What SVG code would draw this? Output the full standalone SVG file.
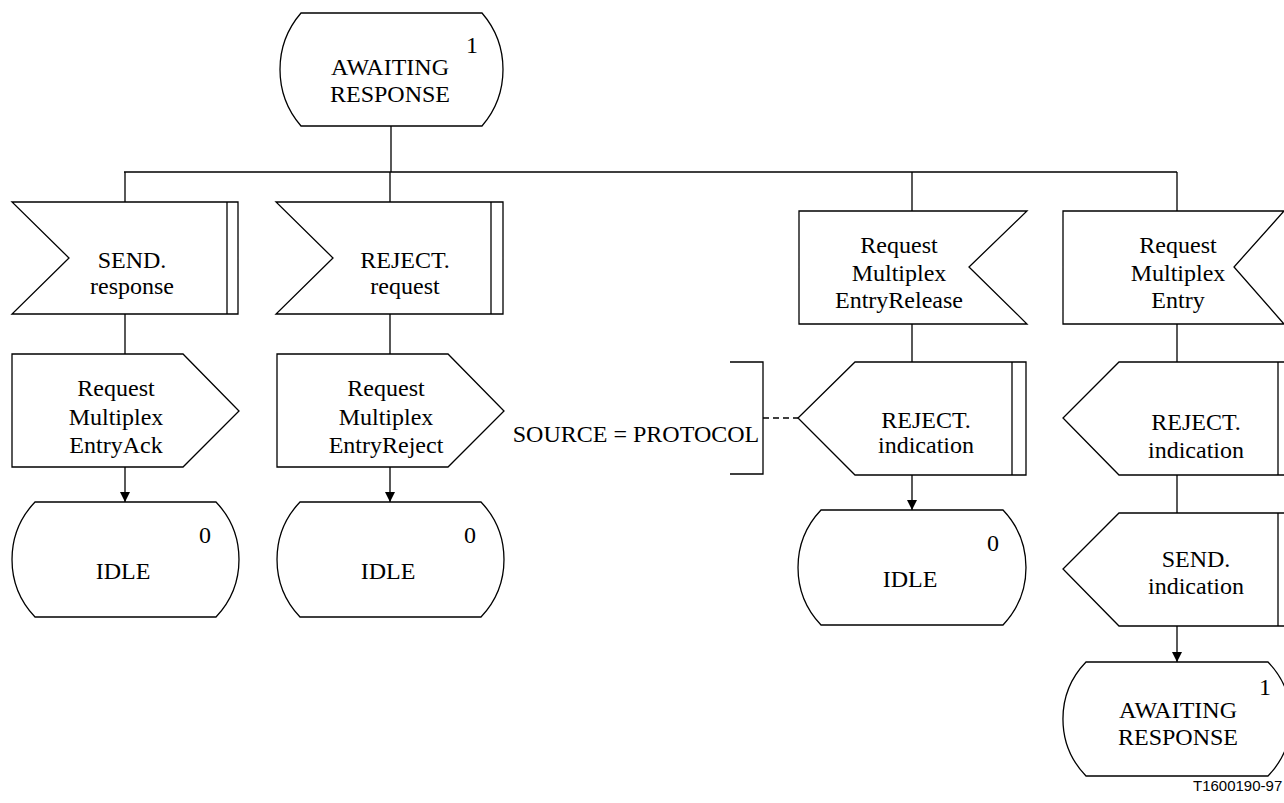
<svg xmlns="http://www.w3.org/2000/svg" width="1284" height="803" viewBox="0 0 1284 803">
<defs>
<style>
.s{fill:#fff;stroke:#000;stroke-width:1.3}
.l{fill:none;stroke:#000;stroke-width:1.3}
.t{font-family:'Liberation Serif',serif;font-size:24px;fill:#000;text-anchor:middle}
</style>
<marker id="ah" viewBox="0 0 10 10" refX="10" refY="5" markerWidth="10" markerHeight="10" markerUnits="userSpaceOnUse" orient="auto">
<path d="M0,0 L10,5 L0,10 z" fill="#000"/>
</marker>
</defs>
<rect width="1284" height="803" fill="#fff"/>

<g id="connectors">
<path class="l" d="M391,126 V172 M124,172 H1177 M125,172 V202 M390,172 V202 M912,172 V211 M1177,172 V211"/>
<path class="l" d="M125,314 V354 M390,314 V354 M912,324 V362 M1177,324 V362 M1177,475 V513"/>
<path class="l" d="M125,467 V502" marker-end="url(#ah)"/>
<path class="l" d="M390,467 V502" marker-end="url(#ah)"/>
<path class="l" d="M912,475 V510" marker-end="url(#ah)"/>
<path class="l" d="M1177,626 V662" marker-end="url(#ah)"/>
<path class="l" d="M763,418 H798" stroke-dasharray="6,4"/>
</g>

<g id="state-awaiting-top">
<path class="s" d="M301,13 H482 A86.5,86.5 0 0 1 482,126 H301 A86.5,86.5 0 0 1 301,13 Z"/>
<text class="t" x="472" y="53">1</text>
<text class="t" x="390" y="75">AWAITING</text>
<text class="t" x="390" y="102">RESPONSE</text>
</g>

<g id="input-send-response">
<path class="s" d="M12,202 H238 V314 H12 L69,258 Z"/>
<path class="l" d="M227,202 V314"/>
<text class="t" x="132" y="268">SEND.</text>
<text class="t" x="132" y="294">response</text>
</g>

<g id="input-reject-request">
<path class="s" d="M276,202 H503 V314 H276 L333,258 Z"/>
<path class="l" d="M491,202 V314"/>
<text class="t" x="405" y="268">REJECT.</text>
<text class="t" x="405" y="294">request</text>
</g>

<g id="input-rme-release">
<path class="s" d="M799,211 H1027 L969,267 L1027,324 H799 Z"/>
<text class="t" x="899" y="253">Request</text>
<text class="t" x="899" y="281">Multiplex</text>
<text class="t" x="899" y="308">EntryRelease</text>
</g>

<g id="input-rme">
<path class="s" d="M1063,211 H1284 L1234,267 L1284,324 H1063 Z"/>
<text class="t" x="1178" y="253">Request</text>
<text class="t" x="1178" y="281">Multiplex</text>
<text class="t" x="1178" y="308">Entry</text>
</g>

<g id="output-rme-ack">
<path class="s" d="M12,354 H183 L239,411 L183,467 H12 Z"/>
<text class="t" x="116" y="396">Request</text>
<text class="t" x="116" y="425">Multiplex</text>
<text class="t" x="116" y="453">EntryAck</text>
</g>

<g id="output-rme-reject">
<path class="s" d="M277,354 H448 L504,411 L448,467 H277 Z"/>
<text class="t" x="386" y="396">Request</text>
<text class="t" x="386" y="425">Multiplex</text>
<text class="t" x="386" y="453">EntryReject</text>
</g>

<g id="state-idle-1">
<path class="s" d="M35,502 H216 A83.4,83.4 0 0 1 216,617 H35 A83.4,83.4 0 0 1 35,502 Z"/>
<text class="t" x="205" y="543">0</text>
<text class="t" x="123" y="579">IDLE</text>
</g>

<g id="state-idle-2">
<path class="s" d="M300,502 H481 A83.4,83.4 0 0 1 481,617 H300 A83.4,83.4 0 0 1 300,502 Z"/>
<text class="t" x="470" y="543">0</text>
<text class="t" x="388" y="579">IDLE</text>
</g>

<g id="comment-source">
<path class="l" d="M730,362 H763 V474 H730"/>
<text class="t" x="636" y="442">SOURCE = PROTOCOL</text>
</g>

<g id="output-reject-indication-mid">
<path class="s" d="M855,362 H1026 V475 H855 L798,418 Z"/>
<path class="l" d="M1012,362 V475"/>
<text class="t" x="926" y="428">REJECT.</text>
<text class="t" x="926" y="453">indication</text>
</g>

<g id="state-idle-3">
<path class="s" d="M821,510 H1003 A83.4,83.4 0 0 1 1003,625 H821 A83.4,83.4 0 0 1 821,510 Z"/>
<text class="t" x="993" y="551">0</text>
<text class="t" x="910" y="587">IDLE</text>
</g>

<g id="output-reject-indication-right">
<path class="s" d="M1119,362 H1290 V475 H1119 L1063,418 Z"/>
<path class="l" d="M1278,362 V475"/>
<text class="t" x="1196" y="430">REJECT.</text>
<text class="t" x="1196" y="458">indication</text>
</g>

<g id="output-send-indication">
<path class="s" d="M1119,513 H1290 V626 H1119 L1063,569 Z"/>
<path class="l" d="M1278,513 V626"/>
<text class="t" x="1196" y="567">SEND.</text>
<text class="t" x="1196" y="594">indication</text>
</g>

<g id="state-awaiting-bottom">
<path class="s" d="M1086,662 H1268 A82,82 0 0 1 1268,776 H1086 A82,82 0 0 1 1086,662 Z"/>
<text class="t" x="1265" y="695">1</text>
<text class="t" x="1178" y="718">AWAITING</text>
<text class="t" x="1178" y="745">RESPONSE</text>
</g>

<text x="1193" y="791" font-family="'Liberation Sans', Arial, sans-serif" font-size="15" fill="#000">T1600190-97</text>
</svg>
